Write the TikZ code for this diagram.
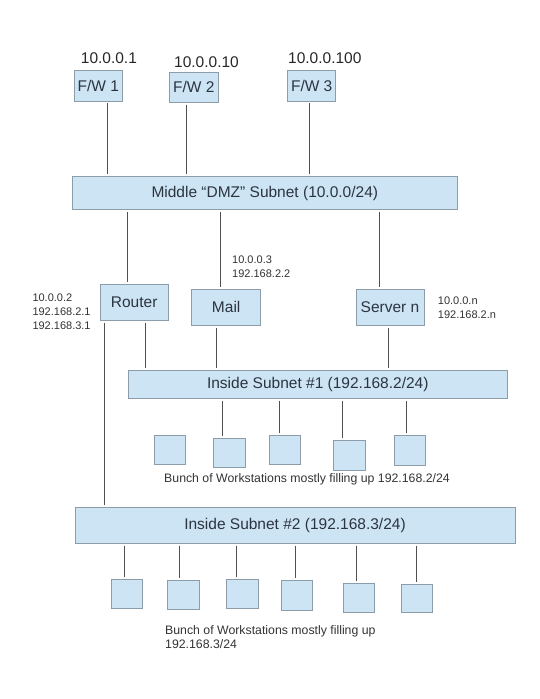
\documentclass[tikz,border=0pt]{standalone}
\usepackage{fontspec}
\setmainfont{Liberation Sans}
\usepackage{tikz}
\usetikzlibrary{positioning}

\definecolor{boxfill}{HTML}{CCE4F3}
\definecolor{boxline}{HTML}{8C9DA9}
\definecolor{wire}{HTML}{505050}
\definecolor{ink}{HTML}{2C3440}

\begin{document}
\begin{tikzpicture}[
    % GLOBAL CFG
    x=1pt, y=-1pt,
    % Styles
    host/.style={% For the firewalls and servers
        rectangle,
        draw=boxline,
        fill=boxfill,
        line width=.8pt,
        text=ink,
        inner sep=0pt,
        font=\fontsize{15.5}{18}\selectfont,
        },
    subnet/.style={% For the long subnet bars
        host,
        },
    ws/.style={% For the workstations
        host,
        minimum width=31pt,
        minimum height=29pt,
        },
    iplabel/.style={% addresses next to the boxes
        inner sep=0pt,
        anchor=west,
        align=left,
        text=black!80,
        font=\fontsize{11}{13.8}\selectfont,
        },
    biglabel/.style={% addresses above the firewalls
        inner sep=0pt,
        anchor=west,
        text=black!85,
        font=\fontsize{15.5}{18}\selectfont,
        },
    notelabel/.style={% notes under the workstations
        inner sep=0pt,
        align=left,
        text=black!80,
        font=\fontsize{12.3}{14.3}\selectfont,
        },
    Link/.style={% wires between boxes
        draw=wire,
        line width=.9pt,
        shorten <=2pt,
        shorten >=2pt,
        }
    ]

    \useasboundingbox (0,0) rectangle (540,699);

    % Draw the firewalls named fw#
    \node [host, minimum width=48pt, minimum height=31pt] (fw1) at (98.3,85.5) {F/W 1};
    \node [host, minimum width=49pt, minimum height=30pt] (fw2) at (193.8,87.3) {F/W 2};
    \node [host, minimum width=48pt, minimum height=31pt] (fw3) at (311.7,85.5) {F/W 3};

    % Draw the subnets
    \node [subnet, minimum width=385pt, minimum height=33pt] (dmz) at (264.8,193.3) {Middle “DMZ” Subnet (10.0.0/24)};
    \node [subnet, minimum width=379pt, minimum height=28pt] (sub1) at (317.8,384.2) {Inside Subnet \#1 (192.168.2/24)};
    \node [subnet, minimum width=440pt, minimum height=36pt] (sub2) at (295,525.3) {Inside Subnet \#2 (192.168.3/24)};

    % Draw the servers
    \node [host, minimum width=68pt, minimum height=36pt] (router) at (134.2,302.5) {Router};
    \node [host, minimum width=69pt, minimum height=36pt] (mail) at (226.2,307.2) {Mail};
    \node [host, minimum width=68pt, minimum height=36pt] (server) at (390,307.2) {Server n};

    % Draw workstations on subnet 1 named wa#
    \node [ws] (wa1) at (170,450) {};
    \node [ws, minimum width=32pt] (wa2) at (229.2,452.8) {};
    \node [ws] (wa3) at (285,450) {};
    \node [ws, minimum width=32pt, minimum height=30pt] (wa4) at (349.2,455) {};
    \node [ws, minimum height=30pt] (wa5) at (410.3,450.8) {};

    % Draw workstations on subnet 2 named wb#
    \node [ws] (wb1) at (126.5,593.7) {};
    \node [ws, minimum width=32pt] (wb2) at (183.3,595.3) {};
    \node [ws, minimum width=32pt] (wb3) at (242.7,593.7) {};
    \node [ws, minimum height=30pt] (wb4) at (297.2,595.8) {};
    \node [ws] (wb5) at (358.8,597.8) {};
    \node [ws, minimum height=28pt] (wb6) at (417,598.5) {};

    % Addresses
    \node [biglabel] (ipfw1) at (80.7,58) {10.0.0.1};
    \node [biglabel] (ipfw2) at (174,62) {10.0.0.10};
    \node [biglabel] (ipfw3) at (288,57.7) {10.0.0.100};
    \node [iplabel] (iprouter) at (32.3,311.5) {10.0.0.2\\192.168.2.1\\192.168.3.1};
    \node [iplabel] (ipmail) at (232,267) {10.0.0.3\\192.168.2.2};
    \node [iplabel] (ipserver) at (437.7,308) {10.0.0.n\\192.168.2.n};

    % Notes
    \node [notelabel] (note1) at (307,479.3) {Bunch of Workstations mostly filling up 192.168.2/24};
    \node [notelabel, anchor=west] (note2) at (165,637.2) {Bunch of Workstations mostly filling up\\192.168.3/24};

% Start connecting all.
    % Firewalls to DMZ
    \draw [Link] (107.3,0 |- fw1.south) -- (107.3,0 |- dmz.north);
    \draw [Link] (186.7,0 |- fw2.south) -- (186.7,0 |- dmz.north);
    \draw [Link] (309.3,0 |- fw3.south) -- (309.3,0 |- dmz.north);

    % DMZ to servers
    \draw [Link] (127.7,0 |- dmz.south) -- (127.7,0 |- router.north);
    \draw [Link] (220.3,0 |- dmz.south) -- (220.3,0 |- mail.north);
    \draw [Link] (379.3,0 |- dmz.south) -- (379.3,0 |- server.north);

    % Servers to inside subnets
    \draw [Link] (145,0 |- router.south) -- (145,0 |- sub1.north);
    \draw [Link] (216.7,0 |- mail.south) -- (216.7,0 |- sub1.north);
    \draw [Link] (388,0 |- server.south) -- (388,0 |- sub1.north);
    \draw [Link] (104.5,0 |- router.south) -- (104.5,0 |- sub2.north);

    % Subnet 1 to workstations
    \draw [Link] (222.3,0 |- sub1.south) -- (222.3,0 |- wa2.north);
    \draw [Link] (279.3,0 |- sub1.south) -- (279.3,0 |- wa3.north);
    \draw [Link] (342.7,0 |- sub1.south) -- (342.7,0 |- wa4.north);
    \draw [Link] (406.7,0 |- sub1.south) -- (406.7,0 |- wa5.north);

    % Subnet 2 to workstations
    \draw [Link] (124,0 |- sub2.south) -- (124,0 |- wb1.north);
    \draw [Link] (179.3,0 |- sub2.south) -- (179.3,0 |- wb2.north);
    \draw [Link] (236.7,0 |- sub2.south) -- (236.7,0 |- wb3.north);
    \draw [Link] (295,0 |- sub2.south) -- (295,0 |- wb4.north);
    \draw [Link] (356,0 |- sub2.south) -- (356,0 |- wb5.north);
    \draw [Link] (416.7,0 |- sub2.south) -- (416.7,0 |- wb6.north);

\end{tikzpicture}
\end{document}
